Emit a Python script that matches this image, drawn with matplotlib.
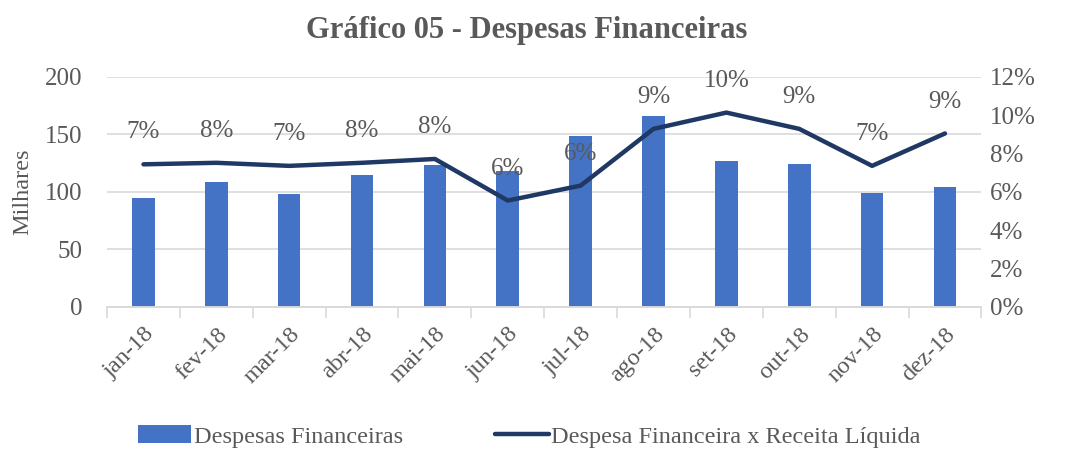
import numpy as np
import matplotlib.pyplot as plt

plt.rcParams['font.family'] = ['Liberation Serif', 'DejaVu Serif']

meses = ["jan-18", "fev-18", "mar-18", "abr-18", "mai-18", "jun-18",
         "jul-18", "ago-18", "set-18", "out-18", "nov-18", "dez-18"]
despesas = [95, 109, 98, 115, 123, 118, 149, 166, 127, 124, 99, 104]  # milhares
perc_receita = [7.44, 7.52, 7.36, 7.52, 7.72, 5.55, 6.33, 9.29, 10.14, 9.29, 7.36, 9.05]  # %
cinza = "#595959"

x = np.arange(len(meses))

fig = plt.figure(figsize=(10.65, 4.5), dpi=100)
ax = fig.add_axes([0.1005, 0.318, 0.821, 0.511])
ax2 = ax.twinx()

barras = ax.bar(x, despesas, width=0.31, color="#4472C4", zorder=2,
                label="Despesas Financeiras")
ax.set_ylim(0, 200)
ax.set_yticks([0, 50, 100, 150, 200])
ax.set_xlim(-0.5, len(meses) - 0.5)
ax.yaxis.grid(True, color="#d9d9d9", linewidth=1.2, zorder=0)
ax.set_axisbelow(True)

# ticks nas divisões entre categorias, rótulos no centro
ax.set_xticks(np.arange(len(meses) + 1) - 0.5)
ax.set_xticklabels([])
ax.set_xticks(x, minor=True)
ax.set_xticklabels(meses, minor=True, rotation=45, ha="right", rotation_mode="anchor",
                   fontsize=17.5, color=cinza)
ax.tick_params(axis="x", which="major", length=8, color="#d9d9d9", width=1.2)
ax.tick_params(axis="x", which="minor", length=0, pad=12)
ax.tick_params(axis="y", length=0, labelsize=18, labelcolor=cinza, pad=18)
ax.set_ylabel("Milhares", fontsize=17.5, color=cinza, labelpad=8)

linha, = ax2.plot(x, perc_receita, color="#1F3864", linewidth=3.2,
                  solid_capstyle="round", solid_joinstyle="round",
                  label="Despesa Financeira x Receita Líquida", zorder=3)
ax2.set_ylim(0, 12)
ax2.set_yticks(range(0, 13, 2))
ax2.set_yticklabels([f"{v}%" for v in range(0, 13, 2)])
ax2.tick_params(axis="y", length=0, labelsize=18, labelcolor=cinza, pad=6)

for i, v in enumerate(perc_receita):
    ax2.annotate(f"{round(v):.0f}%", (x[i], v), xytext=(0, 23), textcoords="offset points",
                 ha="center", va="center", fontsize=18, color=cinza)

for a in (ax, ax2):
    for s in ("top", "left", "right"):
        a.spines[s].set_visible(False)
    a.spines["bottom"].set_color("#d9d9d9")
    a.spines["bottom"].set_linewidth(1.2)

fig.suptitle("Gráfico 05 - Despesas Financeiras", x=0.495, y=0.965, fontsize=22,
             fontweight="bold", color=cinza)

fig.legend([barras, linha], ["Despesas Financeiras", "Despesa Financeira x Receita Líquida"],
           loc="center", bbox_to_anchor=(0.497, 0.03), ncol=2, frameon=False,
           fontsize=17.5, labelcolor=cinza, handlelength=2.2, handletextpad=0.1,
           columnspacing=3.8)

plt.savefig("out.png", dpi=100)
